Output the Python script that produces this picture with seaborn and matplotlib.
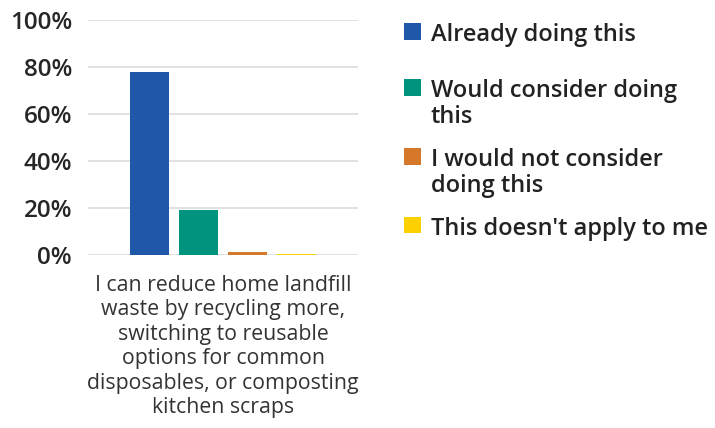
import matplotlib
matplotlib.use("Agg")
import matplotlib.pyplot as plt
import seaborn as sns
import pandas as pd
from matplotlib.ticker import PercentFormatter

question = ["I can reduce home landfill\nwaste by recycling more,\nswitching to reusable\noptions for common\ndisposables, or composting\nkitchen scraps"]
responses = ["Already doing this", "Would consider doing\nthis",
             "I would not consider\ndoing this", "This doesn't apply to me"]
values = [78, 19, 1.3, 0.6]
colors = ["#1f58a8", "#00937d", "#d5782a", "#fdd000"]
yticks = [0, 20, 40, 60, 80, 100]

df = pd.DataFrame({"question": question * len(responses),
                   "response": responses,
                   "value": values})

sns.set_theme(style="white")
plt.rcParams["font.family"] = ["Open Sans", "DejaVu Sans"]

fig = plt.figure(figsize=(7.15, 4.28), dpi=100)
ax = fig.add_axes([0.123, 0.404, 0.378, 0.549])

sns.barplot(data=df, x="question", y="value", hue="response",
            palette=colors, saturation=1, width=0.8, gap=0.2,
            linewidth=0, ax=ax, legend=True)

ax.set_xlim(-0.55, 0.55)
ax.set_ylim(0, 100)
ax.set_yticks(yticks)
ax.yaxis.set_major_formatter(PercentFormatter(decimals=0))
ax.grid(axis="y", color="#dcdcdc", linewidth=1.2)
ax.set_axisbelow(True)
for s in ax.spines.values():
    s.set_visible(False)
ax.set_xlabel("")
ax.set_ylabel("")
ax.tick_params(axis="y", length=0, pad=11.5, labelsize=17.5, labelcolor="#262626")
ax.tick_params(axis="x", length=0, pad=14, labelsize=15.3, labelcolor="#333333")
for t in ax.get_yticklabels():
    t.set_fontweight("semibold")
for t in ax.get_xticklabels():
    t.set_linespacing(1.22)

handles, labels = ax.get_legend_handles_labels()
ax.legend_.remove()

common = dict(loc="upper left", frameon=False,
              prop={"size": 17, "weight": "semibold"},
              handlelength=0.72, handleheight=0.72, handletextpad=0.42,
              labelcolor="#222222", borderpad=0, borderaxespad=0)
legA = fig.legend(handles[:1], labels[:1], bbox_to_anchor=(0.565, 0.946), **common)
legB = fig.legend(handles[1:], labels[1:], bbox_to_anchor=(0.565, 0.815),
                  labelspacing=0.8, **common)
for leg in (legA, legB):
    for t in leg.get_texts():
        t.set_linespacing(1.1)
    for col in leg._legend_handle_box.get_children():
        for row in col.get_children():
            row.align = "top"

fig.savefig("out.png", dpi=100, facecolor="white")
